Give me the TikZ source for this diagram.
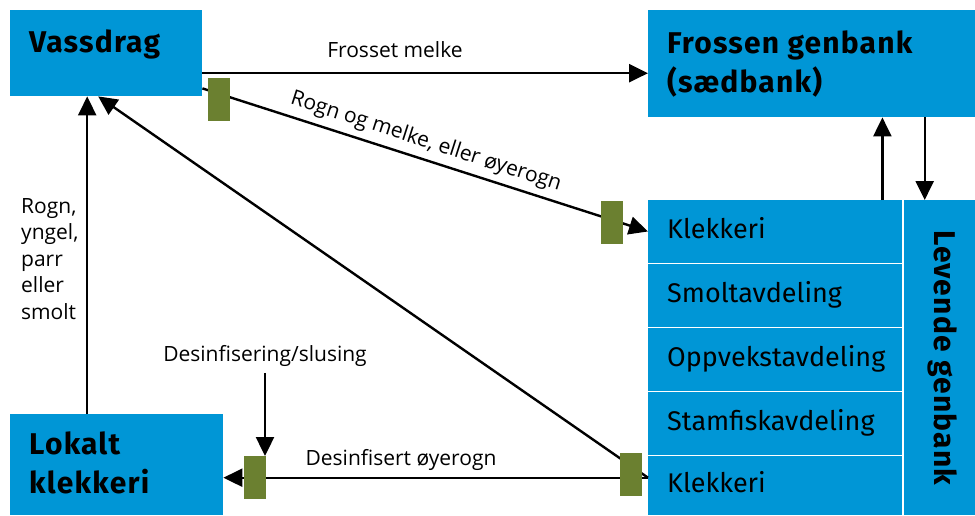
\documentclass[tikz,border=0pt]{standalone}
\usepackage{fontspec}
\setmainfont{Open Sans}
\newfontfamily\boxfont{Fira Sans}
\newfontfamily\titlefont{Fira Sans}[LetterSpace=4]
\usetikzlibrary{arrows.meta}
\definecolor{genblue}{RGB}{0,150,214}
\definecolor{gateolive}{RGB}{107,128,48}

\begin{document}
\begin{tikzpicture}[x=1pt,y=-1pt,
  box/.style={fill=genblue, draw=none, inner sep=0pt, anchor=north west},
  boxtitle/.style={font=\titlefont\bfseries\fontsize{30}{35}\selectfont, anchor=base west, inner sep=0pt},
  unit/.style={box, minimum width=254pt, text width=216pt, inner xsep=19pt,
    align=left, font=\boxfont\fontsize{27}{32}\selectfont, text height=20pt, text depth=6pt},
  lbl/.style={font=\fontsize{21}{26.5}\selectfont, inner sep=3pt},
  gate/.style={fill=gateolive, draw=none, inner sep=0pt, anchor=north west,
    minimum width=22pt, minimum height=43pt},
  conn/.style={line width=2.4pt, -{Triangle[length=19pt,width=18pt]}}
]
\clip (0,0) rectangle (975,515);

% boxes
\node[box, minimum width=192pt, minimum height=86pt] (vass) at (10,10) {};
\node[boxtitle] (vass-t) at (29,52) {Vassdrag};

\node[box, minimum width=327pt, minimum height=107pt] (fros) at (648,10) {};
\node[boxtitle] (fros-t1) at (667,53) {Frossen genbank};
\node[boxtitle] (fros-t2) at (667,92) {(sædbank)};

\node[box, minimum width=213pt, minimum height=101pt] (lok) at (10,414) {};
\node[boxtitle] (lok-t1) at (29,454) {Lokalt};
\node[boxtitle] (lok-t2) at (29,493) {klekkeri};

% living gene bank units
\node[unit, minimum height=62.5pt] (klek1) at (648,200) {Klekkeri};
\node[unit, minimum height=62.5pt] (smolt) at (648,264) {Smoltavdeling};
\node[unit, minimum height=62.5pt] (oppv) at (648,328) {Oppvekstavdeling};
\node[unit, minimum height=62.5pt] (stam) at (648,392) {Stamfiskavdeling};
\node[unit, minimum height=59pt] (klek5) at (648,456) {Klekkeri};

\node[box, minimum width=71pt, minimum height=315pt] (lev) at (904,200) {};
\node[boxtitle, anchor=center, rotate=-90] (lev-t) at ([xshift=3pt]lev.center) {Levende genbank};

% connectors
\coordinate (a1) at ([yshift=-20pt]vass.east);
\draw[conn] (a1) -- (a1 -| fros.west);
\node[lbl] (fm) at (395,50) {Frosset melke};

\draw[conn] ([yshift=8pt]vass.south east) -- (klek1.west);
\node[lbl, rotate=-17.8] (rom) at (426,142) {Rogn og melke, eller øyerogn};

\coordinate (k5) at ([yshift=8pt]klek5.west);
\draw[conn] (k5) -- ([xshift=-8pt]vass.south);
\draw[conn] (k5) -- (k5 -| lok.east);
\node[lbl] (deo) at (401,460) {Desinfisert øyerogn};

\coordinate (up) at ([xshift=-19pt]vass.south);
\draw[conn] (up |- lok.north) -- (up);
\node[lbl, inner sep=0pt, anchor=north west, align=left] (ryp) at (21,198) {Rogn,\\yngel,\\parr\\eller\\smolt};

\coordinate (kup) at ([xshift=-20pt]klek1.north east);
\draw[conn] (kup) -- (kup |- fros.south);
\coordinate (ldn) at ([xshift=-15pt]lev.north);
\draw[conn] (ldn |- fros.south) -- (ldn);

\node[lbl, inner ysep=6pt] (des) at (265,356) {Desinfisering/slusing};

% gates
\node[gate] (g1) at (208,78) {};
\node[gate] (g2) at (601,201) {};
\node[gate] (g3) at (244,456) {};
\node[gate] (g4) at (620,453) {};

\draw[conn] (des.south) -- (des.south |- g3.north);
\end{tikzpicture}
\end{document}
